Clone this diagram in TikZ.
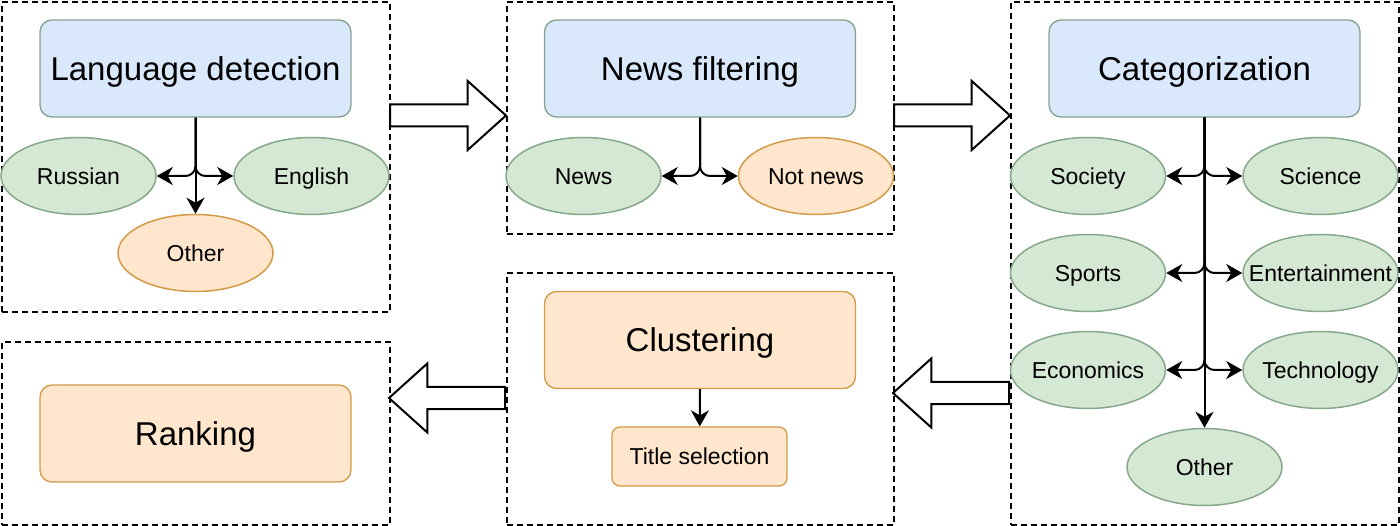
\documentclass[tikz,border=0pt]{standalone}
\usepackage{fontspec}
\setmainfont{Liberation Sans}
\usetikzlibrary{positioning, shapes.geometric, shapes.arrows, arrows.meta}

\definecolor{blueFill}{HTML}{DAE8FC}
\definecolor{blueLine}{HTML}{84A08E}
\definecolor{greenFill}{HTML}{D5E8D4}
\definecolor{greenLine}{HTML}{86A98C}
\definecolor{orangeFill}{HTML}{FFE6CC}
\definecolor{orangeLine}{HTML}{D39A48}

\begin{document}
\begin{tikzpicture}[
    x=1pt, y=-1pt,
    stageframe/.style={draw, line width=2pt, dash pattern=on 6pt off 4pt,
        anchor=north west, inner sep=0pt},
    stage/.style={draw, line width=1.3pt, rounded corners=12pt,
        minimum width=311pt, minimum height=97pt,
        text height=24pt, text depth=0pt,
        font=\fontsize{33}{40}\selectfont},
    substage/.style={draw, line width=1.3pt, rounded corners=8pt,
        minimum width=175pt, minimum height=59pt,
        text height=16.5pt, text depth=0pt,
        font=\fontsize{23}{28}\selectfont},
    result/.style={ellipse, draw, line width=1.5pt,
        inner xsep=-20pt, inner ysep=0pt,
        minimum width=155pt, minimum height=77pt,
        text height=16.5pt, text depth=0pt,
        font=\fontsize{23}{28}\selectfont},
    green/.style={fill=greenFill, draw=greenLine},
    orange/.style={fill=orangeFill, draw=orangeLine},
    blue/.style={fill=blueFill, draw=blueLine},
    link/.style={line width=2pt, rounded corners=10pt,
        -{Stealth[length=16pt, width=18pt, inset=5pt]}},
    bigarrow/.style={single arrow, draw, fill=white, line width=2pt,
        anchor=tail, inner xsep=0pt, inner ysep=10pt, minimum height=116pt,
        single arrow head extend=23.5pt, single arrow tip angle=84}
]
    \useasboundingbox (0,0) rectangle (1400,526);

    % dashed frames round each step
    \node[stageframe, minimum width=388pt, minimum height=310pt] (fLang) at (1,1) {};
    \node[stageframe, minimum width=387pt, minimum height=232pt] (fNews) at (506,1) {};
    \node[stageframe, minimum width=388pt, minimum height=523pt] (fCat) at (1010,1) {};
    \node[stageframe, minimum width=387pt, minimum height=252pt] (fClust) at (506,272) {};
    \node[stageframe, minimum width=388pt, minimum height=183pt] (fRank) at (1,341) {};

    % the steps
    \node[stage, blue] (lang) at (195.5,68.5) {Language detection};
    \node[stage, blue] (news) at (700,68.5) {News filtering};
    \node[stage, blue] (cat) at (1204.5,68.5) {Categorization};
    \node[stage, orange] (clust) at (700,340) {Clustering};
    \node[stage, orange] (rank) at (195.5,433.5) {Ranking};
    \node[substage, orange] (title) at (699.5,456.5) {Title selection};

    % language detection results
    \node[result, green] (ru) at (78.5,176) {Russian};
    \node[result, green] (en) at (311.5,176) {English};
    \node[result, orange] (langOther) at (195.5,253) {Other};

    % news filtering results
    \node[result, green] (isNews) at (583.5,176) {News};
    \node[result, orange] (notNews) at (816,176) {Not news};

    % categories
    \node[result, green] (society) at (1088,176) {Society};
    \node[result, green] (science) at (1320.5,176) {Science};
    \node[result, green] (sports) at (1088,273) {Sports};
    \node[result, green] (entert) at (1320.5,273) {Entertainment};
    \node[result, green] (econ) at (1088,370) {Economics};
    \node[result, green] (tech) at (1320.5,370) {Technology};
    \node[result, green] (catOther) at (1204.5,467) {Other};

    % branches
    \draw[link] (lang.south) |- (ru);
    \draw[link] (lang.south) |- (en);
    \draw[link] (lang.south) -- (langOther);
    \draw[link] (news.south) |- (isNews);
    \draw[link] (news.south) |- (notNews);
    \foreach \c in {society, science, sports, entert, econ, tech}
        \draw[link] (cat.south) |- (\c);
    \draw[link] (cat.south) -- (catOther);
    \draw[link] (clust.south) -- (title);

    % hollow arrows between the frames
    \node[bigarrow] (toNews) at (389,115.5) {};
    \node[bigarrow] (toCat) at (893,115.5) {};
    \node[bigarrow, shape border rotate=180] (toClust) at (1010,393) {};
    \node[bigarrow, shape border rotate=180] (toRank) at (506,398) {};
\end{tikzpicture}
\end{document}
